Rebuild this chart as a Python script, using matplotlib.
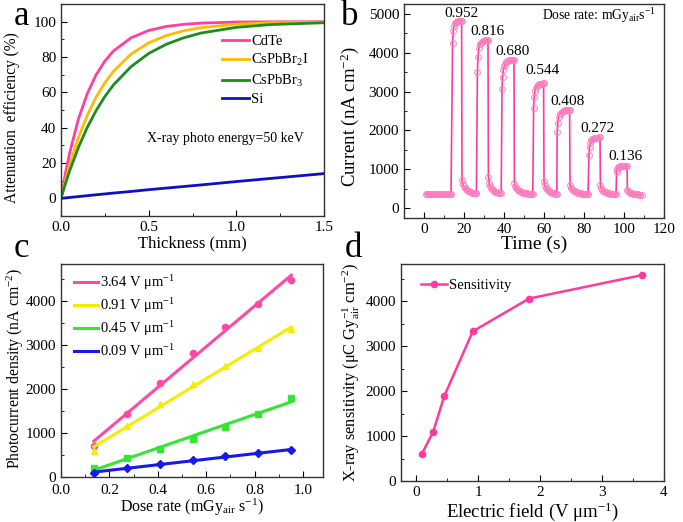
import numpy as np
import matplotlib
matplotlib.use("Agg")
import matplotlib.pyplot as plt
from matplotlib.ticker import MultipleLocator

plt.rcParams['font.family'] = ['Liberation Serif', 'DejaVu Serif']
plt.rcParams['mathtext.fontset'] = 'custom'
plt.rcParams['mathtext.rm'] = 'Liberation Serif'
plt.rcParams['mathtext.it'] = 'Liberation Serif:italic'
plt.rcParams['mathtext.default'] = 'rm'

# ---- panel a: attenuation efficiency vs thickness
thick = [0, 0.025, 0.05, 0.1, 0.15, 0.2, 0.25, 0.3, 0.4, 0.5, 0.6, 0.7, 0.8, 1.0, 1.2, 1.5]
att_cdte = [0, 13.9, 25.9, 45.1, 59.3, 69.9, 77.7, 83.5, 90.9, 95.0, 97.3, 98.5, 99.2, 99.8, 99.9, 100.0]
att_br2i = [0, 10.1, 19.1, 34.6, 47.0, 57.2, 65.4, 72.0, 81.7, 88.0, 92.1, 94.9, 96.6, 98.6, 99.4, 99.8]
att_br3 = [0, 8.2, 15.8, 29.0, 40.2, 49.6, 57.6, 64.3, 74.6, 82.0, 87.2, 90.9, 93.6, 96.8, 98.4, 99.4]
att_si = [0, 0.25, 0.5, 1.0, 1.5, 2.0, 2.5, 3.0, 3.9, 4.9, 5.8, 6.7, 7.6, 9.5, 11.3, 14.0]

# ---- panel b: current response to pulsed X-ray
t_b = [1.0, 1.5, 2.0, 2.5, 3.0, 3.5, 4.0, 4.5, 5.0, 5.5, 6.0, 6.5, 7.0, 7.5, 8.0, 8.5, 9.0,
       9.5, 10.0, 10.5, 11.0, 11.5, 12.0, 12.5, 13.0, 13.5,
       14.3, 14.6, 15.0, 15.5, 16.0, 16.5, 17.0, 17.5, 18.0, 18.5, 18.8,
       19.0, 19.4, 19.8, 20.3, 20.8, 21.3, 21.8, 22.3, 22.8, 23.3, 23.8, 24.3, 24.8, 25.3, 25.8, 26.2,
       26.7, 27.0, 27.4, 27.9, 28.4, 28.9, 29.4, 29.9, 30.4, 30.9, 31.4, 32.0,
       32.2, 32.6, 33.0, 33.5, 34.0, 34.5, 35.0, 35.5, 36.0, 36.5, 37.0, 37.5, 38.0, 38.6,
       39.0, 39.3, 39.7, 40.2, 40.7, 41.2, 41.7, 42.2, 42.7, 43.2, 43.7, 44.2, 44.6, 45.0,
       45.2, 45.6, 46.0, 46.5, 47.0, 47.5, 48.0, 48.5, 49.0, 49.5, 50.0, 50.5, 51.0, 51.5, 52.0,
       52.5, 53.0, 53.5, 54.0, 54.4,
       54.8, 55.1, 55.5, 56.0, 56.5, 57.0, 57.5, 58.0, 58.5, 59.0, 59.4, 59.8,
       60.0, 60.4, 60.8, 61.3, 61.8, 62.3, 62.8, 63.3, 63.8, 64.3, 64.8, 65.3, 65.8, 66.4,
       66.6, 66.9, 67.3, 67.8, 68.3, 68.8, 69.3, 69.8, 70.3, 70.8, 71.3, 71.8, 72.3, 72.8,
       73.0, 73.4, 73.8, 74.3, 74.8, 75.3, 75.8, 76.3, 76.8, 77.3, 77.8, 78.3, 78.8, 79.3, 79.8,
       80.3, 80.8, 81.4, 82.0,
       82.5, 82.8, 83.2, 83.7, 84.2, 84.7, 85.2, 85.7, 86.2, 86.7, 87.2, 87.6, 88.0,
       88.2, 88.6, 89.0, 89.5, 90.0, 90.5, 91.0, 91.5, 92.0, 92.5, 93.0, 93.5, 94.0, 94.5, 95.0,
       95.5, 96.0,
       96.3, 96.6, 97.0, 97.5, 98.0, 98.5, 99.0, 99.5, 100.0, 100.5, 101.0, 101.5,
       101.7, 102.1, 102.5, 103.0, 103.5, 104.0, 104.5, 105.0, 105.5, 106.0, 106.5, 107.0, 107.5,
       108.2, 108.8]
i_b = [372, 370, 369, 368, 368, 367, 366, 366, 365, 365, 364, 364, 363, 363, 363, 362, 362,
       362, 361, 361, 361, 360, 360, 360, 360, 360,
       4250, 4560, 4690, 4750, 4780, 4800, 4810, 4815, 4820, 4820, 4820,
       730, 620, 560, 520, 490, 465, 447, 432, 420, 410, 402, 396, 391, 387, 384, 382,
       3500, 3900, 4120, 4220, 4260, 4285, 4300, 4310, 4320, 4325, 4330, 4330,
       810, 660, 580, 525, 490, 463, 445, 430, 418, 409, 402, 396, 392, 389,
       3070, 3380, 3560, 3660, 3720, 3755, 3775, 3790, 3800, 3808, 3813, 3817, 3820, 3820,
       650, 560, 515, 485, 462, 445, 432, 421, 412, 404, 398, 392, 387, 383, 379,
       376, 373, 371, 369, 368,
       2570, 2850, 3020, 3100, 3145, 3170, 3185, 3195, 3200, 3205, 3210, 3210,
       700, 590, 530, 490, 462, 440, 424, 411, 400, 392, 385, 379, 374, 370,
       1970, 2200, 2350, 2420, 2460, 2485, 2500, 2510, 2518, 2523, 2527, 2530, 2530, 2530,
       600, 530, 492, 465, 446, 431, 419, 409, 401, 394, 388, 383, 378, 374, 371,
       368, 365, 363, 361,
       1380, 1580, 1690, 1745, 1775, 1792, 1802, 1808, 1813, 1816, 1818, 1820, 1820,
       600, 520, 480, 454, 435, 420, 408, 398, 390, 383, 377, 372, 368, 364, 361,
       359, 357,
       920, 1010, 1050, 1068, 1077, 1082, 1085, 1087, 1089, 1090, 1090, 1090,
       480, 440, 418, 403, 392, 383, 376, 370, 365, 361, 357, 354, 351,
       348, 346]
dose_labels = ['0.952', '0.816', '0.680', '0.544', '0.408', '0.272', '0.136']
label_t = [18.8, 31.8, 44.3, 59.3, 71.8, 86.7, 100.5]
label_i = [5000, 4540, 4020, 3530, 2740, 2050, 1340]

# ---- panel c: photocurrent density vs dose rate
dose = [0.136, 0.272, 0.408, 0.544, 0.680, 0.816, 0.952]
pc_364 = [706, 1427, 2140, 2830, 3415, 3947, 4478]
pc_091 = [592, 1161, 1670, 2110, 2520, 2945, 3362]
pc_045 = [213, 433, 645, 873, 1138, 1427, 1806]
pc_009 = [99, 197, 288, 380, 470, 546, 607]

# ---- panel d: sensitivity vs electric field
field = [0.09, 0.27, 0.45, 0.91, 1.82, 3.64]
sens = [611, 1095, 1892, 3330, 4060, 4581]

pink = '#ff3a9d'

fig = plt.figure(figsize=(6.83, 5.22), dpi=100)
ax_a = fig.add_axes([0.0893, 0.5862, 0.3851, 0.4061])
ax_b = fig.add_axes([0.5915, 0.5824, 0.3807, 0.4099])
ax_c = fig.add_axes([0.0893, 0.0862, 0.3836, 0.4081])
ax_d = fig.add_axes([0.5871, 0.0785, 0.3851, 0.4158])

for ax in (ax_a, ax_b, ax_c, ax_d):
    ax.tick_params(which='both', direction='in', top=False, right=False, labelsize=11)
    ax.tick_params(which='major', length=4)
    ax.tick_params(which='minor', length=2.5)
    for s in ax.spines.values():
        s.set_linewidth(1.0)
        s.set_color('#333333')

# panel a
ax_a.plot(thick, att_cdte, color='#ff3fa0', lw=2, label='CdTe')
ax_a.plot(thick, att_br2i, color='#ffbb00', lw=2, label='CsPbBr$_2$I')
ax_a.plot(thick, att_br3, color='#1c8c1c', lw=2, label='CsPbBr$_3$')
ax_a.plot(thick, att_si, color='#1010c0', lw=2, label='Si')
ax_a.set_xlim(0, 1.5)
ax_a.set_ylim(-10, 110)
ax_a.xaxis.set_major_locator(MultipleLocator(0.5))
ax_a.xaxis.set_minor_locator(MultipleLocator(0.25))
ax_a.yaxis.set_major_locator(MultipleLocator(20))
ax_a.yaxis.set_minor_locator(MultipleLocator(10))
ax_a.set_xlabel('Thickness (mm)', fontsize=12, labelpad=1)
ax_a.set_ylabel('Attenuation  efficiency (%)', fontsize=11.2)
ax_a.yaxis.set_label_coords(-0.155, 0.465)
ax_a.legend(loc='upper left', bbox_to_anchor=(0.612, 0.855), frameon=False, fontsize=10.5,
            handlelength=1.85, handletextpad=0.15, labelspacing=0.3, borderaxespad=0,
            borderpad=0)
ax_a.text(0.94, 34, 'X-ray photo energy=50 keV', fontsize=10, ha='center', va='center')

# panel b
ax_b.plot(t_b, i_b, color=pink, lw=1.2, marker='o', ms=4.2, mfc='none', mec='#ff7fbf', mew=0.7)
for lab, x, y in zip(dose_labels, label_t, label_i):
    ax_b.text(x, y, lab, fontsize=11, ha='center', va='center')
ax_b.text(0.97, 0.945, 'Dose rate: mGy$_{air}$s$^{-1}$', transform=ax_b.transAxes,
          fontsize=9.8, ha='right', va='center')
ax_b.set_xlim(-10, 120)
ax_b.set_ylim(-250, 5250)
ax_b.xaxis.set_major_locator(MultipleLocator(20))
ax_b.xaxis.set_minor_locator(MultipleLocator(10))
ax_b.yaxis.set_major_locator(MultipleLocator(1000))
ax_b.yaxis.set_minor_locator(MultipleLocator(500))
ax_b.set_xlabel('Time (s)', fontsize=14, labelpad=0)
ax_b.set_ylabel('Current (nA cm$^{-2}$)', fontsize=13.5)
ax_b.yaxis.set_label_coords(-0.165, 0.472)

# panel c
series_c = [(pc_364, '#ff4aa5', 'o', '3.64 V \u03bcm$^{-1}$'),
            (pc_091, '#f2ee00', '^', '0.91 V \u03bcm$^{-1}$'),
            (pc_045, '#33e633', 's', '0.45 V \u03bcm$^{-1}$'),
            (pc_009, '#1818e8', 'D', '0.09 V \u03bcm$^{-1}$')]
dose_arr = np.array(dose)
for vals, col, mk, lab in series_c:
    k, b = np.polyfit(dose_arr, vals, 1)
    ax_c.plot(dose_arr, k * dose_arr + b, color=col, lw=2.2, label=lab)
    ax_c.plot(dose_arr, vals, ls='none', marker=mk, ms=4.5, color=col)
ax_c.set_xlim(0, 1.083)
ax_c.set_ylim(0, 4850)
ax_c.xaxis.set_major_locator(MultipleLocator(0.2))
ax_c.xaxis.set_minor_locator(MultipleLocator(0.1))
ax_c.yaxis.set_major_locator(MultipleLocator(1000))
ax_c.yaxis.set_minor_locator(MultipleLocator(500))
ax_c.tick_params(axis='x', which='major', pad=5)
ax_c.set_xlabel('Dose rate (mGy$_{air}$ s$^{-1}$)', fontsize=11.5, labelpad=0)
ax_c.set_ylabel('Photocurrent density (nA cm$^{-2}$)', fontsize=11.3)
ax_c.yaxis.set_label_coords(-0.135, 0.51)
ax_c.legend(loc='upper left', bbox_to_anchor=(0.05, 0.955), frameon=False, fontsize=10.5,
            handlelength=1.65, handletextpad=0.15, labelspacing=0.28, borderaxespad=0,
            borderpad=0)

# panel d
ax_d.plot(field, sens, color=pink, lw=1.8, marker='o', ms=4.5, label='Sensitivity')
ax_d.set_xlim(-0.25, 4)
ax_d.set_ylim(0, 4830)
ax_d.xaxis.set_major_locator(MultipleLocator(1))
ax_d.xaxis.set_minor_locator(MultipleLocator(0.5))
ax_d.yaxis.set_major_locator(MultipleLocator(1000))
ax_d.yaxis.set_minor_locator(MultipleLocator(500))
ax_d.set_xlabel('Electric field (V \u03bcm$^{-1}$)', fontsize=13.5, labelpad=1)
ax_d.set_ylabel('X-ray sensitivity (\u03bcC Gy$_{air}^{-1}$ cm$^{-2}$)', fontsize=11.8)
ax_d.yaxis.set_label_coords(-0.15, 0.5)
ax_d.legend(loc='upper left', bbox_to_anchor=(0.076, 0.93), frameon=False, fontsize=10.5,
            handlelength=1.8, handletextpad=0.15, borderaxespad=0, borderpad=0)

# panel letters
fig.text(0.031, 0.953, 'a', fontsize=25, ha='center', va='baseline')
fig.text(0.512, 0.953, 'b', fontsize=25, ha='center', va='baseline')
fig.text(0.032, 0.508, 'c', fontsize=25, ha='center', va='baseline')
fig.text(0.518, 0.508, 'd', fontsize=25, ha='center', va='baseline')

fig.savefig('out.png', dpi=100)
